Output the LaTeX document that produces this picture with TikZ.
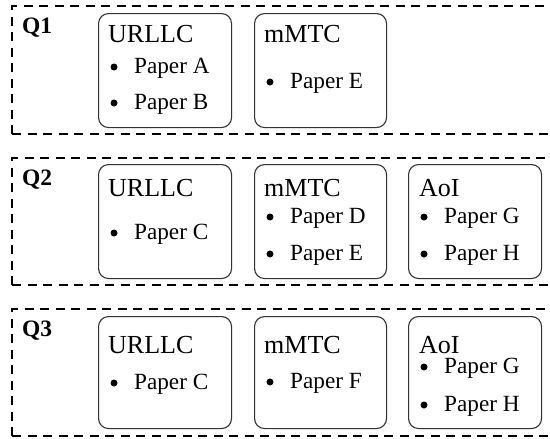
\documentclass[tikz,border=0pt]{standalone}
\usepackage{fontspec}
\setmainfont{Liberation Serif}
\newcommand\pitem[4]{%
  \node[dot] (#1b) at ({#2+16},{#3-6}) {};
  \node[item] (#1) at ({#2+36},#3) {#4};}
\begin{document}
\begin{tikzpicture}[x=1pt,y=-1pt,
  qbox/.style={draw=black,line width=1.8pt,dash pattern=on 9pt off 6.5pt},
  catbox/.style={draw=black!80,line width=1.1pt,rounded corners=10pt,inner sep=0pt},
  qlabel/.style={anchor=base west,inner sep=0pt,font=\fontsize{23.5}{27}\selectfont\bfseries},
  cattitle/.style={anchor=base west,inner sep=0pt,font=\fontsize{26}{30}\selectfont},
  item/.style={anchor=base west,inner sep=0pt,font=\fontsize{23.2}{27}\selectfont},
  dot/.style={circle,fill=black,inner sep=0pt,minimum size=7pt}]
\useasboundingbox (0,0) rectangle (550,439);
% dashed group frames
\coordinate (q1tl) at (12,6);   \coordinate (q1tr) at (556,6);
\coordinate (q1bl) at (12,134); \coordinate (q1br) at (556,134);
\coordinate (q2tl) at (12,158); \coordinate (q2tr) at (556,158);
\coordinate (q2bl) at (12,285); \coordinate (q2br) at (556,285);
\coordinate (q3tl) at (12,309); \coordinate (q3tr) at (556,309);
\coordinate (q3bl) at (12,436); \coordinate (q3br) at (556,436);
\draw[qbox] (q1bl) -- (q1tl) -- (q1tr);
\draw[qbox] (q1bl) -- (q1br);
\draw[qbox] (q2bl) -- (q2tl) -- (q2tr);
\draw[qbox] (q2bl) -- (q2br);
\draw[qbox] (q3bl) -- (q3tl) -- (q3tr);
\draw[qbox] (q3bl) -- (q3br);
\node[qlabel] (q1) at (22,34) {Q1};
\node[qlabel] (q2) at (22,185) {Q2};
\node[qlabel] (q3) at (22,336) {Q3};
% Q1
\node[catbox,minimum width=133pt,minimum height=114pt,anchor=north west] (u1) at (98,13) {};
\node[cattitle] (u1t) at (108,42) {URLLC};
\pitem{u1a}{98}{73}{Paper A}
\pitem{u1b}{98}{109}{Paper B}
\node[catbox,minimum width=132pt,minimum height=114pt,anchor=north west] (m1) at (254,13) {};
\node[cattitle] (m1t) at (264,42) {mMTC};
\pitem{m1e}{254}{88}{Paper E}
% Q2
\node[catbox,minimum width=133pt,minimum height=114pt,anchor=north west] (u2) at (98,164) {};
\node[cattitle] (u2t) at (108,196) {URLLC};
\pitem{u2c}{98}{239}{Paper C}
\node[catbox,minimum width=132pt,minimum height=114pt,anchor=north west] (m2) at (254,164) {};
\node[cattitle] (m2t) at (264,196) {mMTC};
\pitem{m2d}{254}{223}{Paper D}
\pitem{m2e}{254}{260}{Paper E}
\node[catbox,minimum width=133pt,minimum height=114pt,anchor=north west] (a2) at (408,164) {};
\node[cattitle] (a2t) at (419,196) {AoI};
\pitem{a2g}{408}{223}{Paper G}
\pitem{a2h}{408}{260}{Paper H}
% Q3
\node[catbox,minimum width=133pt,minimum height=112pt,anchor=north west] (u3) at (98,316) {};
\node[cattitle] (u3t) at (108,353) {URLLC};
\pitem{u3c}{98}{389}{Paper C}
\node[catbox,minimum width=132pt,minimum height=112pt,anchor=north west] (m3) at (254,316) {};
\node[cattitle] (m3t) at (264,353) {mMTC};
\pitem{m3f}{254}{388}{Paper F}
\node[catbox,minimum width=133pt,minimum height=112pt,anchor=north west] (a3) at (408,316) {};
\node[cattitle] (a3t) at (419,353) {AoI};
\pitem{a3g}{408}{373}{Paper G}
\pitem{a3h}{408}{411}{Paper H}
\end{tikzpicture}
\end{document}
